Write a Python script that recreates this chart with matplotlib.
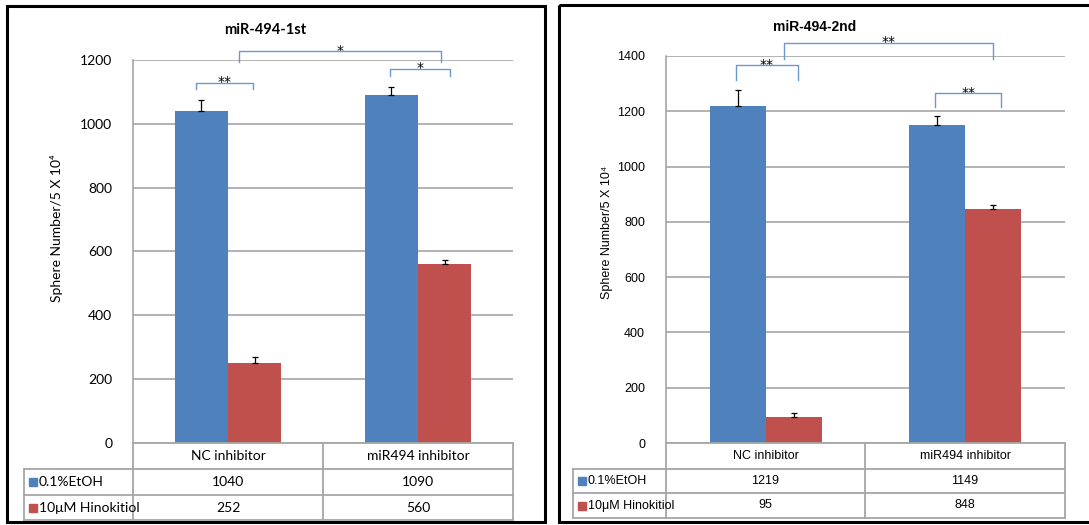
import matplotlib
matplotlib.use("Agg")
import matplotlib.pyplot as plt
from matplotlib.patches import Rectangle
import numpy as np

categories = ["NC inhibitor", "miR494 inhibitor"]
series_names = ["0.1%EtOH", "10μM Hinokitiol"]

first_etoh = [1040, 1090]
first_hino = [252, 560]
first_etoh_err = [35, 26]
first_hino_err = [17, 12]

second_etoh = [1219, 1149]
second_hino = [95, 848]
second_etoh_err = [57, 34]
second_hino_err = [13, 12]

# significance brackets: (x from, x to, leg bottom, bracket top, stars)
first_sig = [(-0.17, 0.13, 1109, 1128, "**"),
             (0.06, 1.12, 1194, 1228, "*"),
             (0.85, 1.17, 1150, 1172, "*")]
second_sig = [(-0.15, 0.16, 1313, 1367, "**"),
              (0.09, 1.14, 1389, 1447, "**"),
              (0.85, 1.18, 1215, 1266, "**")]

BLUE = "#4F81BD"
RED = "#C0504D"
BRACKET = "#6A98D0"
GRID = "#A6A6A6"

W, H = 1089, 525
fig = plt.figure(figsize=(W / 100, H / 100), dpi=100)


def px_axes(x0, y0, x1, y1):
    # axes placed by pixel box (top-left origin)
    return fig.add_axes([x0 / W, 1 - y1 / H, (x1 - x0) / W, (y1 - y0) / H])


# overlay in pixel coordinates for frames and the data tables
ov = fig.add_axes([0, 0, 1, 1], zorder=5)
ov.set_xlim(0, W)
ov.set_ylim(H, 0)
ov.axis("off")
ov.patch.set_alpha(0)


def panel(title, etoh, hino, etoh_err, hino_err, sig, ymax,
          frame, plot_box, legend_x, mid_x, rows, ylab_xy, title_xy,
          font, fs, tfs, sq):
    x0, y0, x1, y1 = plot_box
    ax = px_axes(x0, y0, x1, y1)
    x = np.arange(len(categories))
    w = 0.28
    ekw = dict(lw=0.9, capsize=2.5, capthick=0.9)
    ax.bar(x - w / 2, etoh, w, color=BLUE, zorder=3,
           yerr=[np.zeros(2), etoh_err], error_kw=ekw)
    ax.bar(x + w / 2, hino, w, color=RED, zorder=3,
           yerr=[np.zeros(2), hino_err], error_kw=ekw)
    ax.set_xlim(-0.5, 1.5)
    ax.set_ylim(0, ymax)
    ax.set_yticks(np.arange(0, ymax + 1, 200))
    ax.set_yticklabels([str(v) for v in range(0, ymax + 1, 200)], family=font, fontsize=fs)
    ax.tick_params(axis="y", length=0, pad=15)
    ax.set_xticks([])
    ax.yaxis.grid(True, color=GRID, lw=1.2, zorder=0)
    for s in ["top", "right", "bottom"]:
        ax.spines[s].set_visible(False)
    ax.spines["left"].set_color(GRID)
    ax.spines["left"].set_linewidth(1.2)

    for xa, xb, ylo, yhi, stars in sig:
        ax.plot([xa, xa, xb, xb], [ylo, yhi, yhi, ylo], color=BRACKET, lw=1.0,
                clip_on=False, zorder=4)
        ax.annotate(stars, ((xa + xb) / 2, yhi), xytext=(0, -2.5),
                    textcoords="offset points", ha="center", va="baseline",
                    family="DejaVu Sans", fontsize=10, annotation_clip=False)

    fig.text(title_xy[0] / W, 1 - title_xy[1] / H, title, ha="center", va="center",
             family=font, fontsize=tfs, fontweight="bold")
    fig.text(ylab_xy[0] / W, 1 - ylab_xy[1] / H, "Sphere Number/5 X 10\u2074",
             rotation=90, ha="center", va="center", family=[font, "DejaVu Sans"], fontsize=fs)

    # data table under the plot
    ra, rb, rc, rd = rows
    lw = 1.3
    ov.plot([x0, x1], [ra, ra], color=GRID, lw=lw)
    for yy in (rb, rc, rd):
        ov.plot([legend_x, x1], [yy, yy], color=GRID, lw=lw)
    ov.plot([legend_x, legend_x], [rb, rd], color=GRID, lw=lw)
    for xx in (x0, mid_x, x1):
        ov.plot([xx, xx], [ra, rd], color=GRID, lw=lw)
    centers = [(x0 + mid_x) / 2, (mid_x + x1) / 2]
    for c, name in zip(centers, categories):
        ov.text(c, (ra + rb) / 2, name, ha="center", va="center", family=font, fontsize=fs)
    for (ytop, ybot), name, vals, col in zip([(rb, rc), (rc, rd)], series_names,
                                              [etoh, hino], [BLUE, RED]):
        ym = (ytop + ybot) / 2
        ov.add_patch(Rectangle((legend_x + 5, ym - sq / 2), sq, sq, color=col))
        ov.text(legend_x + 7 + sq, ym, name, ha="left", va="center", family=font, fontsize=fs)
        for c, v in zip(centers, vals):
            ov.text(c, ym, str(v), ha="center", va="center", family=font, fontsize=fs)

    fx0, fy0, fx1, fy1 = frame
    ov.add_patch(Rectangle((fx0, fy0), fx1 - fx0, fy1 - fy0, fill=False,
                           edgecolor="black", lw=2.2))


panel("miR-494-1st", first_etoh, first_hino, first_etoh_err, first_hino_err,
      first_sig, 1200,
      frame=(7, 6, 545, 522), plot_box=(133, 60, 513, 443),
      legend_x=24, mid_x=323, rows=(443, 469, 495, 520),
      ylab_xy=(57, 228), title_xy=(265, 30), font="Lato", fs=10, tfs=10.5, sq=8)

panel("miR-494-2nd", second_etoh, second_hino, second_etoh_err, second_hino_err,
      second_sig, 1400,
      frame=(559, 5, 1095, 522), plot_box=(666, 56, 1065, 443),
      legend_x=573, mid_x=865, rows=(443, 469, 493, 518),
      ylab_xy=(607, 232), title_xy=(815, 27), font="Liberation Sans", fs=9, tfs=10, sq=8)

fig.savefig("out.png", dpi=100)
